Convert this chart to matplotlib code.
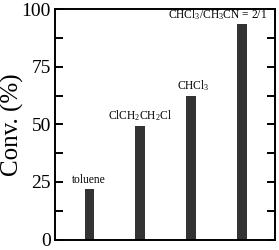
import matplotlib
matplotlib.use("Agg")
import matplotlib.pyplot as plt
from matplotlib.ticker import MultipleLocator

plt.rcParams['font.family'] = ['Liberation Serif', 'DejaVu Serif']
plt.rcParams['mathtext.fontset'] = 'custom'
plt.rcParams['mathtext.rm'] = 'Liberation Serif'
plt.rcParams['mathtext.it'] = 'Liberation Serif:italic'

solvents = ['toluene', r'ClCH$_2$CH$_2$Cl', r'CHCl$_3$', r'CHCl$_3$/CH$_3$CN = 2/1']
conv = [22, 49.5, 62.5, 93.5]
positions = [1, 2, 3, 4]

fig = plt.figure(figsize=(2.79, 2.5), dpi=100)
ax = fig.add_axes([0.197, 0.042, 0.789, 0.92])
ax.bar(positions, conv, width=0.18, color='#333333')

ax.set_ylim(0, 100)
ax.set_xlim(0.33, 4.65)
ax.set_xticks([])
ax.yaxis.set_major_locator(MultipleLocator(25))
ax.yaxis.set_minor_locator(MultipleLocator(12.5))
ax.tick_params(axis='y', which='both', direction='in', left=True, right=True,
               length=6, width=1.4, labelsize=14, pad=3)
for s in ax.spines.values():
    s.set_linewidth(1.4)
ax.set_ylabel('Conv. (%)', fontsize=18, va='center')
ax.yaxis.set_label_coords(-0.195, 0.5)

offsets = [0, 0, 0.05, -0.47]
for p, v, lab, off in zip(positions, conv, solvents, offsets):
    ax.annotate(lab, (p + off, v), xytext=(0, 2), textcoords='offset points',
                ha='center', va='bottom', fontsize=8.3)

fig.savefig('out.png', dpi=100)
